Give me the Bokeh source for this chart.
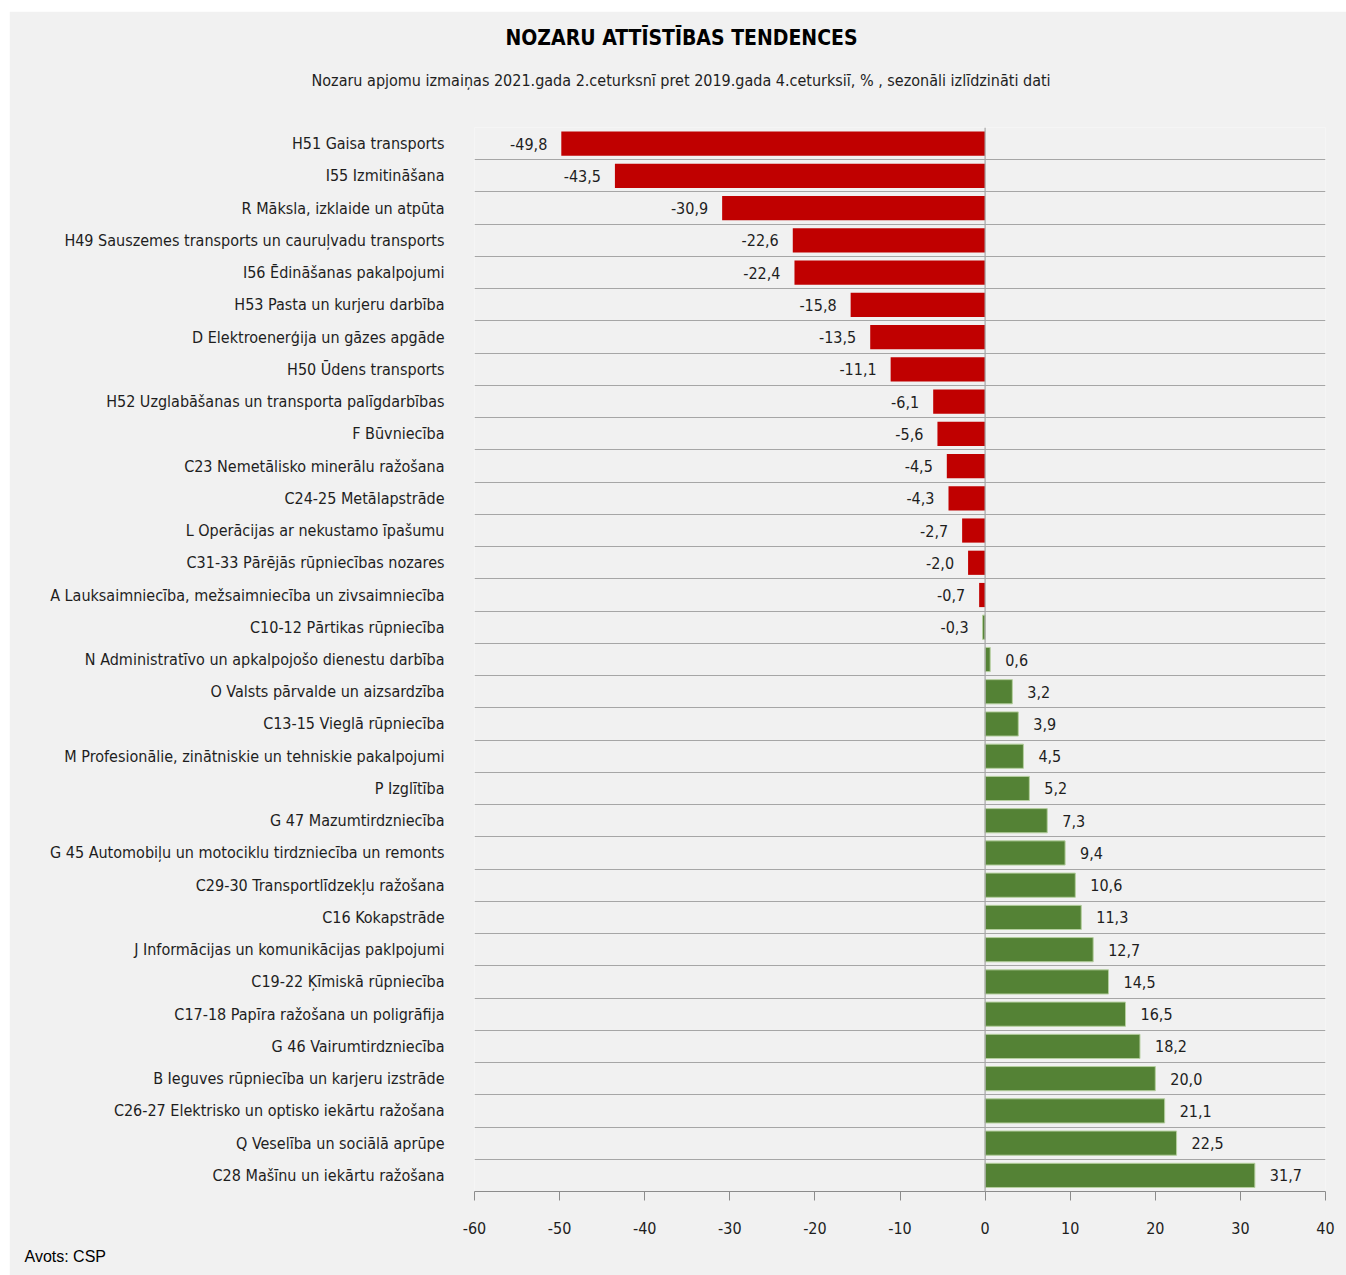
from bokeh.plotting import figure
from bokeh.models import Range1d, FixedTicker, Title, ColumnDataSource, Span
from bokeh.embed import file_html
from bokeh.resources import INLINE
from bokeh.core.properties import value

categories = [
    "H51 Gaisa transports",
    "I55 Izmitināšana",
    "R Māksla, izklaide un atpūta",
    "H49 Sauszemes transports un cauruļvadu transports",
    "I56 Ēdināšanas pakalpojumi",
    "H53 Pasta un kurjeru darbība",
    "D Elektroenerģija un gāzes apgāde",
    "H50 Ūdens transports",
    "H52 Uzglabāšanas un transporta palīgdarbības",
    "F Būvniecība",
    "C23 Nemetālisko minerālu ražošana",
    "C24-25 Metālapstrāde",
    "L Operācijas ar nekustamo īpašumu",
    "C31-33 Pārējās rūpniecības nozares",
    "A Lauksaimniecība, mežsaimniecība un zivsaimniecība",
    "C10-12 Pārtikas rūpniecība",
    "N Administratīvo un apkalpojošo dienestu darbība",
    "O Valsts pārvalde un aizsardzība",
    "C13-15 Vieglā rūpniecība",
    "M Profesionālie, zinātniskie un tehniskie pakalpojumi",
    "P Izglītība",
    "G 47 Mazumtirdzniecība",
    "G 45 Automobiļu un motociklu tirdzniecība un remonts",
    "C29-30 Transportlīdzekļu ražošana",
    "C16 Kokapstrāde",
    "J Informācijas un komunikācijas paklpojumi",
    "C19-22 Ķīmiskā rūpniecība",
    "C17-18 Papīra ražošana un poligrāfija",
    "G 46 Vairumtirdzniecība",
    "B Ieguves rūpniecība un karjeru izstrāde",
    "C26-27 Elektrisko un optisko iekārtu ražošana",
    "Q Veselība un sociālā aprūpe",
    "C28 Mašīnu un iekārtu ražošana",
]

values = [
    -49.8, -43.5, -30.9, -22.6, -22.4, -15.8, -13.5, -11.1, -6.1, -5.6,
    -4.5, -4.3, -2.7, -2.0, -0.7, -0.3, 0.6, 3.2, 3.9, 4.5,
    5.2, 7.3, 9.4, 10.6, 11.3, 12.7, 14.5, 16.5, 18.2, 20.0,
    21.1, 22.5, 31.7,
]

x_ticks = [-60, -50, -40, -30, -20, -10, 0, 10, 20, 30, 40]

title_text = "NOZARU ATTĪSTĪBAS TENDENCES"
subtitle_text = "Nozaru apjomu izmaiņas 2021.gada 2.ceturksnī pret 2019.gada 4.ceturksiī, % , sezonāli izlīdzināti dati"
source_text = "Avots: CSP"

n = len(categories)
N_RED = 15  # first rows drawn in red in the original

FONT = "DejaVu Sans Condensed"
BG = "#f1f1f1"
RED = "#c00000"
GREEN = "#548235"
GRID = "#a6a6a6"
TXT = "#1e1e1e"

def fmt(v):
    return f"{v:.1f}".replace(".", ",")

ys = [i + 0.5 for i in range(n)]
red_src = ColumnDataSource(dict(y=ys[:N_RED], v=values[:N_RED]))
green_src = ColumnDataSource(dict(y=ys[N_RED:], v=values[N_RED:]))

neg = [(y, v) for y, v in zip(ys, values) if v < 0]
pos = [(y, v) for y, v in zip(ys, values) if v >= 0]
neg_src = ColumnDataSource(dict(y=[a for a, _ in neg], v=[b for _, b in neg], t=[fmt(b) for _, b in neg]))
pos_src = ColumnDataSource(dict(y=[a for a, _ in pos], v=[b for _, b in pos], t=[fmt(b) for _, b in pos]))

p = figure(
    width=1337, height=1264,
    x_range=Range1d(x_ticks[0], x_ticks[-1]),
    y_range=Range1d(n, 0),
    output_backend="svg", toolbar_location=None,
    min_border_left=465, min_border_right=21, min_border_top=116, min_border_bottom=84,
    background_fill_color=BG, border_fill_color=BG, outline_line_color=None,
    margin=(11, 0, 0, 9),
)

p.hbar(y="y", left=0, right="v", height=0.75, source=red_src, fill_color=RED, line_color=None)
p.hbar(y="y", left=0, right="v", height=0.75, source=green_src, fill_color=GREEN,
       line_color="#b5cf9f", line_width=1)

p.text(x="v", y="y", text="t", source=neg_src, x_offset=-14, text_align="right",
       text_baseline="middle", text_font=value(FONT), text_font_size="16px", text_color=TXT)
p.text(x="v", y="y", text="t", source=pos_src, x_offset=15, text_align="left",
       text_baseline="middle", text_font=value(FONT), text_font_size="16px", text_color=TXT)

p.add_layout(Span(location=0, dimension="height", line_color=GRID, line_width=1.2))

# grid between categories
p.xgrid.visible = False
p.ygrid.ticker = FixedTicker(ticks=list(range(n + 1)))
p.ygrid.grid_line_color = GRID
p.ygrid.grid_line_width = 1.2

# y axis as category labels
p.yaxis.ticker = FixedTicker(ticks=ys)
p.yaxis.major_label_overrides = {y: c for y, c in zip(ys, categories)}
p.yaxis.axis_line_color = None
p.yaxis.major_tick_line_color = None
p.yaxis.minor_tick_line_color = None
p.yaxis.major_label_standoff = 24
p.yaxis.major_label_text_font = FONT
p.yaxis.major_label_text_font_size = "16px"
p.yaxis.major_label_text_color = TXT

# x axis
p.xaxis.ticker = FixedTicker(ticks=x_ticks)
p.xaxis.major_label_overrides = {t: str(t) for t in x_ticks}
p.xaxis.axis_line_color = "#8c8c8c"
p.xaxis.axis_line_width = 1.2
p.xaxis.major_tick_line_color = "#8c8c8c"
p.xaxis.major_tick_in = 0
p.xaxis.major_tick_out = 9
p.xaxis.minor_tick_line_color = None
p.xaxis.major_label_standoff = 21
p.xaxis.major_label_text_font = FONT
p.xaxis.major_label_text_font_size = "16px"
p.xaxis.major_label_text_color = TXT

sub = Title(text=subtitle_text, align="left", text_font=FONT, text_font_size="16px",
            text_font_style="normal", text_color=TXT, standoff=75, offset=-163)
main = Title(text=title_text, align="left", text_font=FONT, text_font_size="21px",
             text_font_style="bold", text_color="#000000", standoff=-36, offset=31)
p.add_layout(sub, "above")
p.add_layout(main, "above")

src = Title(text=source_text, align="left", text_font="Liberation Sans", text_font_size="16px",
            text_font_style="normal", text_color="#000000", offset=-450, standoff=19)
p.add_layout(src, "below")

open("out.html", "w").write(file_html(p, INLINE))
